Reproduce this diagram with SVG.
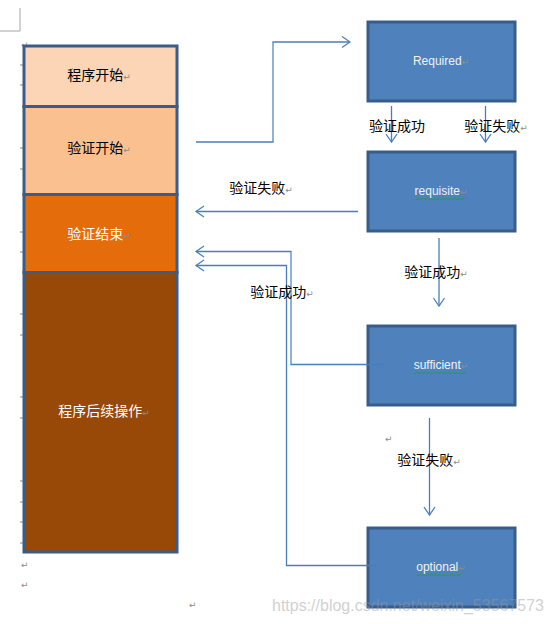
<svg xmlns="http://www.w3.org/2000/svg" width="553" height="624" viewBox="0 0 553 624">
<style>
.cn{font-family:"Noto Sans CJK SC","Noto Sans CJK JP",sans-serif;font-size:14px;text-anchor:middle}
.en{font-family:"Liberation Sans",Arial,sans-serif;font-size:12px;fill:#F2F2F2;text-anchor:middle}
.pm{fill:#8C8C8C;font-family:"DejaVu Sans",sans-serif;font-size:9px}
.sec{stroke:#385D8A;stroke-width:3}
.box{fill:#4F81BD;stroke:#385D8A;stroke-width:3}
.ln{fill:none;stroke:#4A7EBB;stroke-width:1.3}
.lv{fill:none;stroke:#95B3D7;stroke-width:1.6}
.tick{stroke:#888;stroke-width:1}
.wavy{fill:none;stroke:#1E9E3A;stroke-width:0.8}
</style>
<defs>
<marker id="ah" markerUnits="userSpaceOnUse" markerWidth="20" markerHeight="20" viewBox="-10 -10 20 20" refX="0" refY="0" orient="auto">
<path d="M -8 -5.5 L 0 0 L -8 5.5" fill="none" stroke="#4F81BD" stroke-width="1.3"/>
</marker>
</defs>
<rect width="553" height="624" fill="#FFFFFF"/>
<g id="page-marks">
<path d="M 20 8 V 31 H 0" fill="none" stroke="#A6A6A6" stroke-width="1"/>
<g class="tick">
<line x1="20" y1="65" x2="23" y2="65"/><line x1="20" y1="85" x2="23" y2="85"/>
<line x1="20" y1="148" x2="23" y2="148"/><line x1="20" y1="169" x2="23" y2="169"/>
<line x1="20" y1="232" x2="23" y2="232"/><line x1="20" y1="252" x2="23" y2="252"/>
<line x1="20" y1="314" x2="23" y2="314"/><line x1="20" y1="335" x2="23" y2="335"/>
<line x1="20" y1="397" x2="23" y2="397"/><line x1="20" y1="418" x2="23" y2="418"/>
<line x1="20" y1="481" x2="23" y2="481"/><line x1="20" y1="502" x2="23" y2="502"/>
<line x1="20" y1="522" x2="23" y2="522"/><line x1="20" y1="543" x2="23" y2="543"/>
</g>
<text class="pm" x="21" y="48">↵</text>
<text class="pm" x="21" y="568">↵</text>
<text class="pm" x="21" y="588">↵</text>
<text class="pm" x="189" y="608">↵</text>
<text class="pm" x="385" y="442">↵</text>
</g>
<g id="stack">
<g id="n-start"><rect class="sec" x="24" y="46" width="153" height="60.5" fill="#FBD5B5"/><text class="cn" x="99" y="80" fill="#000">程序开始<tspan class="pm">↵</tspan></text></g>
<g id="n-verify-start"><rect class="sec" x="24" y="106.5" width="153" height="88" fill="#FAC090"/><text class="cn" x="99" y="153" fill="#000">验证开始<tspan class="pm">↵</tspan></text></g>
<g id="n-verify-end"><rect class="sec" x="24" y="194.5" width="153" height="78" fill="#E46C0A"/><text class="cn" x="99" y="239" fill="#FFFFFF">验证结束<tspan class="pm">↵</tspan></text></g>
<g id="n-after"><rect class="sec" x="24" y="272.5" width="153" height="279.5" fill="#984807"/><text class="cn" x="104" y="416" fill="#FFFFFF">程序后续操作<tspan class="pm">↵</tspan></text></g>
</g>
<g id="n-required"><rect class="box" x="368" y="22" width="147" height="79"/><text class="en" x="441" y="65">Required<tspan class="pm">↵</tspan></text></g>
<g id="n-requisite"><rect class="box" x="368" y="152" width="147" height="79"/><text class="en" x="441" y="195">requisite<tspan class="pm">↵</tspan></text><path class="wavy" d="M 416 199 q 1 1.5 2 0 t 2 0 t 2 0 t 2 0 t 2 0 t 2 0 t 2 0 t 2 0 t 2 0 t 2 0 t 2 0 t 2 0 t 2 0 t 2 0 t 2 0 t 2 0 t 2 0 t 2 0 t 2 0 t 2 0 t 2 0 t 2 0 t 2 0 t 2 0"/></g>
<g id="n-sufficient"><rect class="box" x="368" y="326" width="147" height="79"/><text class="en" x="441" y="369">sufficient<tspan class="pm">↵</tspan></text><path class="wavy" d="M 414 373 q 1 1.5 2 0 t 2 0 t 2 0 t 2 0 t 2 0 t 2 0 t 2 0 t 2 0 t 2 0 t 2 0 t 2 0 t 2 0 t 2 0 t 2 0 t 2 0 t 2 0 t 2 0 t 2 0 t 2 0 t 2 0 t 2 0 t 2 0 t 2 0 t 2 0 t 2 0 t 2 0"/></g>
<g id="n-optional"><rect class="box" x="368" y="528" width="147" height="79"/><text class="en" x="441" y="571">optional<tspan class="pm">↵</tspan></text><path class="wavy" d="M 417 575 q 1 1.5 2 0 t 2 0 t 2 0 t 2 0 t 2 0 t 2 0 t 2 0 t 2 0 t 2 0 t 2 0 t 2 0 t 2 0 t 2 0 t 2 0 t 2 0 t 2 0 t 2 0 t 2 0 t 2 0 t 2 0 t 2 0 t 2 0"/></g>
<g id="connectors">
<path class="ln" d="M 196 142 H 273 V 42 H 350" marker-end="url(#ah)"/>
<line class="lv" x1="273" y1="43" x2="273" y2="141"/>
<line class="ln" x1="391.5" y1="106" x2="391.5" y2="142" marker-end="url(#ah)"/>
<line class="ln" x1="485.5" y1="106" x2="485.5" y2="142" marker-end="url(#ah)"/>
<line class="ln" x1="358" y1="211.5" x2="196" y2="211.5" marker-end="url(#ah)"/>
<line class="ln" x1="439" y1="238" x2="439" y2="306" marker-end="url(#ah)"/>
<path class="ln" d="M 385 364.5 H 291 V 251.5 H 196" marker-end="url(#ah)"/>
<line class="lv" x1="291" y1="252.5" x2="291" y2="363.5"/>
<path class="ln" d="M 377 565.5 H 286.5 V 265.5 H 196" marker-end="url(#ah)"/>
<line class="ln" x1="429.5" y1="418" x2="429.5" y2="515" marker-end="url(#ah)"/>
<text class="cn" x="397" y="131" fill="#000">验证成功</text>
<text class="cn" x="496" y="131" fill="#000">验证失败<tspan class="pm">↵</tspan></text>
<text class="cn" x="261" y="193" fill="#000">验证失败<tspan class="pm">↵</tspan></text>
<text class="cn" x="436" y="277" fill="#000">验证成功<tspan class="pm">↵</tspan></text>
<text class="cn" x="282" y="297" fill="#000">验证成功<tspan class="pm">↵</tspan></text>
<text class="cn" x="429" y="465" fill="#000">验证失败<tspan class="pm">↵</tspan></text>
</g>
<text x="272" y="611" font-family="'Liberation Sans',Arial,sans-serif" font-size="17" fill="#9A9A9A" opacity="0.45" textLength="272" lengthAdjust="spacingAndGlyphs">https://blog.csdn.net/weixin_53567573</text>
</svg>
